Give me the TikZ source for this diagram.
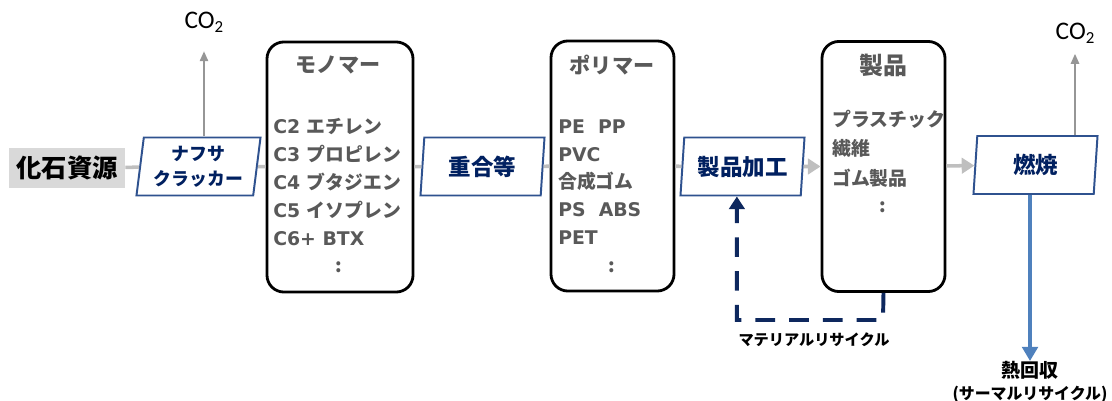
\documentclass[tikz,border=0pt]{standalone}
\usepackage{fontspec}
\setmainfont{Noto Sans CJK JP}
\newfontfamily\cofont{Carlito}
\newfontfamily\latinsans{DejaVu Sans}
\usepackage{tikz}
\usetikzlibrary{arrows.meta}
\usetikzlibrary{shapes.geometric}
\definecolor{navytext}{RGB}{0,32,96}
\definecolor{frameblue}{RGB}{47,82,143}
\definecolor{flowgray}{RGB}{191,191,191}
\definecolor{cogray}{RGB}{150,150,150}
\definecolor{textgray}{RGB}{89,89,89}
\definecolor{heatblue}{RGB}{79,129,189}
\definecolor{recyclenavy}{RGB}{14,40,94}

\begin{document}
\begin{tikzpicture}[x=0.025cm,y=-0.025cm,
	procbox/.style={trapezium,trapezium left angle=80,trapezium right angle=100,trapezium stretches body,draw=frameblue,line width=1.4pt,fill=white,minimum width=3.1cm,minimum height=1.45cm,inner sep=0pt,text=navytext,align=center,font=\bfseries\fontsize{16}{18}\selectfont},
	stockbox/.style={rectangle,rounded corners=12pt,draw,line width=2pt,minimum height=6.25cm},
	stocktitle/.style={text=textgray,font=\bfseries\fontsize{15}{18}\selectfont},
	stockitem/.style={text=textgray,anchor=west,inner sep=0pt,align=left,font=\bfseries\fontsize{13.4}{19.8}\selectfont},
	flow/.style={flowgray,line width=2.5pt},
	coline/.style={cogray,line width=1pt,-{Triangle[length=7pt,width=6pt]}},
	cotext/.style={font=\cofont\fontsize{18}{20}\selectfont}]
			\useasboundingbox (0,0) rectangle (1112,401);
			\node [fill=black!15,minimum width=2.9cm,minimum height=1cm,font=\bfseries\fontsize{18}{20}\selectfont] (src) at (67,168) {化石資源};
			\node [procbox,font=\bfseries\fontsize{12.7}{18}\selectfont] (crack) at (198.5,166.5) {ナフサ\\クラッカー};
			\node [stockbox,minimum width=3.65cm] (mono) at (340,167) {};
			\node [stocktitle] (monot) at (338,65) {モノマー};
			\node [stockitem] (monoi) at (273,182) {{\latinsans C2 }エチレン\\{\latinsans C3 }プロピレン\\{\latinsans C4 }ブタジエン\\{\latinsans C5 }イソプレン\\{\latinsans C6+ BTX}};
			\node [stockitem,anchor=center] (monod) at (339,267) {:};
			\node [procbox] (polym) at (482.5,166.5) {重合等};
			\node [stockbox,minimum width=3.075cm] (poly) at (612.5,166) {};
			\node [stocktitle] (polyt) at (612,65) {ポリマー};
			\node [stockitem] (polyi) at (558,182) {{\latinsans PE\ \ PP}\\{\latinsans PVC}\\合成ゴム\\{\latinsans PS\ \ ABS}\\{\latinsans PET}};
			\node [stockitem,anchor=center] (polyd) at (612,267) {:};
			\node [procbox] (proc) at (742.5,166.5) {製品加工};
			\node [stockbox,minimum width=3.075cm] (prod) at (883.5,166.5) {};
			\node [stocktitle,font=\bfseries\fontsize{17}{18}\selectfont] (prodt) at (883,65) {製品};
			\node [stockitem,font=\bfseries\fontsize{13.4}{21}\selectfont] (prodi) at (832,148.5) {プラスチック\\繊維\\ゴム製品};
			\node [stockitem,anchor=center] (prodd) at (883,207) {:};
			\node [procbox] (burn) at (1035.5,165) {燃焼};
			\node [cotext] (coa) at (204,22) {CO\raisebox{-0.35ex}{\fontsize{12}{12}\selectfont 2}};
			\node [cotext] (cob) at (1075,33) {CO\raisebox{-0.35ex}{\fontsize{12}{12}\selectfont 2}};
			\node [align=center,inner sep=0pt,font=\bfseries\fontsize{11.3}{15.6}\selectfont] (heat) at (1030,382) {{\fontsize{13.5}{15.6}\selectfont 熱回収}\\(サーマルリサイクル)};
			\node [font=\bfseries\fontsize{10.8}{12}\selectfont] (matrec) at (814,340) {マテリアルリサイクル};
			\coordinate (rc) at (883,320);
			\draw [flow] (src) -- (crack);
			\draw [flow] (crack) -- (mono);
			\draw [flow] (mono) -- (polym);
			\draw [flow] (polym) -- (poly);
			\draw [flow] (poly) -- (proc);
			\draw [flow,-{Triangle[length=9pt,width=11pt]}] (proc) -- (prod);
			\draw [flow,-{Triangle[length=9pt,width=11pt]}] (prod) -- (burn);
			\draw [coline,shorten >=10pt] (crack.north -| coa.south) -- (coa.south);
			\draw [coline,shorten >=4pt] (burn.north -| cob) -- (cob.south);
			\draw [heatblue,line width=2.8pt,-{Triangle[length=10pt,width=11pt]}] (burn.south -| heat.north) -- (heat.north);
			\draw [recyclenavy,line width=2.8pt,dash pattern=on 14pt off 10pt,-{Triangle[length=9pt,width=11pt]}] (prod.south) -- (rc) -| ([xshift=-4pt]proc.south);
		\end{tikzpicture}
\end{document}
